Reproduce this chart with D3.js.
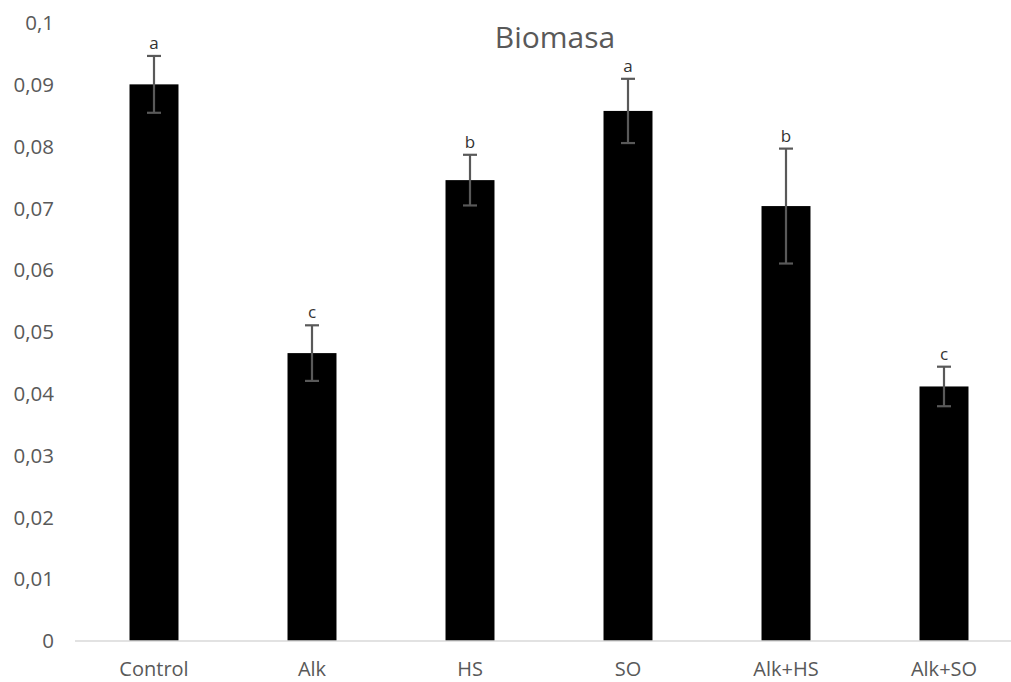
<!DOCTYPE html>
<html>
<head>
<meta charset="utf-8">
<script src="https://cdn.jsdelivr.net/npm/d3@7"></script>
<style>
  html, body { margin: 0; padding: 0; background: #fff; }
  svg { display: block; }
</style>
</head>
<body>
<svg id="chart" width="1011" height="682"></svg>
<script>
// Treatments and their mean biomass with standard errors
const categories = ["Control", "Alk", "HS", "SO", "Alk+HS", "Alk+SO"];
const biomass = [0.0901, 0.0466, 0.0746, 0.0858, 0.0704, 0.0412];
const errors = [0.0046, 0.0045, 0.0041, 0.0052, 0.0093, 0.0032];
const groups = ["a", "c", "b", "a", "b", "c"];
const yTicks = [0, 0.01, 0.02, 0.03, 0.04, 0.05, 0.06, 0.07, 0.08, 0.09, 0.1];

const width = 1011, height = 682;
const fontFamily = "'Open Sans', 'Noto Sans', sans-serif";
const svg = d3.select("#chart");

const x = d3.scaleBand()
  .domain(categories)
  .range([75, 1023])
  .paddingInner(0.69)
  .paddingOuter(0.345);

const y = d3.scaleLinear()
  .domain([0, 0.1])
  .range([641, 23.2]);

const fmt = d => d === 0 ? "0" : d3.format(",.2~f")(d).replace(".", ",");

// Title
svg.append("text")
  .attr("x", 555)
  .attr("y", 48)
  .attr("text-anchor", "middle")
  .attr("font-family", fontFamily)
  .attr("font-size", 30)
  .attr("fill", "#595959")
  .text("Biomasa");

// Y axis labels (no line, no ticks)
const yAxis = svg.append("g")
  .attr("transform", "translate(54,0)")
  .call(d3.axisLeft(y).tickValues(yTicks).tickFormat(fmt).tickSize(0).tickPadding(0));
yAxis.select(".domain").remove();
yAxis.selectAll("text")
  .attr("font-family", fontFamily)
  .attr("font-size", 20.5)
  .attr("fill", "#595959");

// Bars
svg.append("g")
  .selectAll("rect")
  .data(biomass)
  .join("rect")
  .attr("x", (d, i) => x(categories[i]))
  .attr("y", d => y(d))
  .attr("width", x.bandwidth())
  .attr("height", d => y(0) - y(d))
  .attr("fill", "#000");

// Baseline
svg.append("line")
  .attr("x1", 75).attr("x2", width)
  .attr("y1", y(0)).attr("y2", y(0))
  .attr("stroke", "#d9d9d9")
  .attr("stroke-width", 1.5);

// X axis labels
const xAxis = svg.append("g")
  .attr("transform", `translate(0,${y(0)})`)
  .call(d3.axisBottom(x).tickSize(0).tickPadding(21));
xAxis.select(".domain").remove();
xAxis.selectAll("text")
  .attr("font-family", fontFamily)
  .attr("font-size", 20)
  .attr("fill", "#595959");

// Error bars
const capHalf = 7;
const eb = svg.append("g").attr("stroke", "#595959").attr("stroke-width", 2.2);
biomass.forEach((v, i) => {
  const cx = x(categories[i]) + x.bandwidth() / 2;
  const top = y(v + errors[i]), bot = y(v - errors[i]);
  eb.append("line").attr("x1", cx).attr("x2", cx).attr("y1", top).attr("y2", bot);
  eb.append("line").attr("x1", cx - capHalf).attr("x2", cx + capHalf).attr("y1", top).attr("y2", top);
  eb.append("line").attr("x1", cx - capHalf).attr("x2", cx + capHalf).attr("y1", bot).attr("y2", bot);
});

// Significance letters
svg.append("g")
  .selectAll("text")
  .data(groups)
  .join("text")
  .attr("x", (d, i) => x(categories[i]) + x.bandwidth() / 2)
  .attr("y", (d, i) => y(biomass[i] + errors[i]) - 7)
  .attr("text-anchor", "middle")
  .attr("font-family", fontFamily)
  .attr("font-size", 17)
  .attr("fill", "#333333")
  .text(d => d);
</script>
</body>
</html>
